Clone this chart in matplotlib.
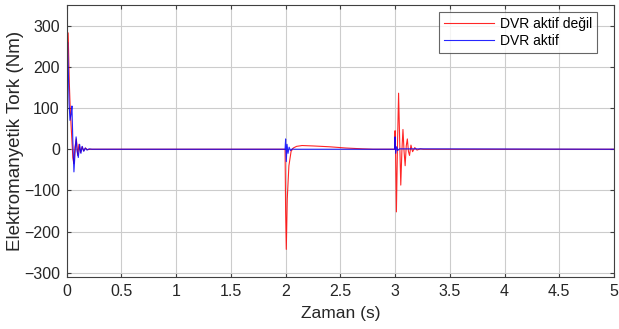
import matplotlib.pyplot as plt
import numpy as np

plt.rcParams['font.family'] = ['Liberation Sans', 'DejaVu Sans']

# Torque traces read as breakpoints (time in s, torque in Nm)
t_off = [0.0, 0.004, 0.010, 0.016, 0.024, 0.032, 0.040, 0.048, 0.056, 0.065,
         0.075, 0.088, 0.100, 0.112, 0.125, 0.140, 0.155, 0.170, 0.190, 0.220,
         1.995, 2.000, 2.006, 2.015, 2.030, 2.050, 2.070, 2.100, 2.150, 2.250,
         2.400, 2.550, 2.700, 2.800,
         2.995, 3.000, 3.005, 3.012, 3.022, 3.032, 3.042, 3.052, 3.062, 3.072,
         3.082, 3.092, 3.102, 3.112, 3.122, 3.132, 3.145, 3.160, 3.180, 3.200,
         3.230, 3.260, 5.0]
tq_off = [0, 200, 283, 250, 160, 100, 58, 20, -20, -35,
          5, 25, -15, 12, -8, 6, -4, 3, -1, 0,
          0, -150, -243, -120, -40, -5, 3, 7, 9, 8,
          6, 3, 1, 0,
          0, 45, -10, -152, 10, 136, 20, -87, -5, 48,
          -5, -40, 8, 25, -5, -15, 10, -6, 4, -2,
          1, 0, 0]

t_on = [0.0, 0.003, 0.008, 0.014, 0.022, 0.030, 0.040, 0.048, 0.056, 0.066,
        0.076, 0.086, 0.096, 0.106, 0.118, 0.130, 0.142, 0.156, 0.170, 0.185,
        0.205, 0.230,
        1.995, 2.000, 2.006, 2.013, 2.022, 2.032, 2.045, 2.060, 2.080,
        2.995, 3.000, 3.006, 3.014, 3.024, 3.040, 5.0]
tq_on = [0, 150, 260, 200, 110, 70, 85, 105, 20, -55,
         -10, 30, -5, -20, 12, -10, 7, -5, 3, -2,
         1, 0,
         0, 25, -30, 12, -10, 5, -3, 1, 0,
         0, 30, -10, 6, -3, 1, 0]

xticks = [0, 0.5, 1, 1.5, 2, 2.5, 3, 3.5, 4, 4.5, 5]
xticklabels = ['0', '0.5', '1', '1.5', '2', '2.5', '3', '3.5', '4', '4.5', '5']
yticks = [-300, -200, -100, 0, 100, 200, 300]

fig = plt.figure(figsize=(6.19, 3.29), dpi=100)
ax = fig.add_axes([66.7 / 619, 1 - 277 / 329, (614 - 66.7) / 619, (277 - 5) / 329])

ax.plot(t_off, tq_off, color='#ff0000', lw=0.8, alpha=0.85, label='DVR aktif değil')
ax.plot(t_on, tq_on, color='#0000ff', lw=0.8, alpha=0.85, label='DVR aktif')

ax.set_xlim(0, 5)
ax.set_ylim(-310, 350)
ax.set_xticks(xticks)
ax.set_xticklabels(xticklabels)
ax.set_yticks(yticks)
ax.grid(True, color='#cccccc', lw=0.8)
ax.set_axisbelow(True)
ax.tick_params(direction='in', top=True, right=True, labelsize=11.5,
               length=3, color='#404040', labelcolor='#262626', pad=5)
for sp in ax.spines.values():
    sp.set_color('#404040')
    sp.set_linewidth(0.8)

ax.set_xlabel('Zaman (s)', fontsize=12.5, color='#262626', labelpad=5)
ax.set_ylabel('Elektromanyetik Tork (Nm)', fontsize=13.5, color='#262626', labelpad=0)

leg = ax.legend(loc='upper right', fontsize=10, frameon=True, fancybox=False,
                edgecolor='#404040', borderpad=0.35, labelspacing=0.2,
                handlelength=3.6, handletextpad=0.4, borderaxespad=0.0,
                bbox_to_anchor=(597 / 619, 1 - 12 / 329),
                bbox_transform=fig.transFigure)
leg.get_frame().set_linewidth(0.8)

fig.savefig('out.png', dpi=100)
